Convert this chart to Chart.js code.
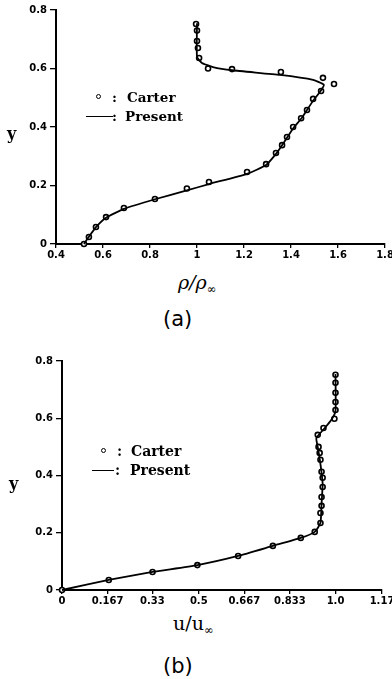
<!DOCTYPE html>
<html><head><meta charset="utf-8">
<script src="https://cdn.jsdelivr.net/npm/chart.js@4.4.0/dist/chart.umd.min.js"></script>
<style>
html,body{margin:0;padding:0;background:#fff;}
#page{position:relative;width:392px;height:679px;overflow:hidden;background:#fff;}
canvas{position:absolute;left:0;display:block;}
.t{position:absolute;color:#000;white-space:nowrap;line-height:1;}
.leg{font-family:'DejaVu Serif';font-weight:bold;}
.dot{position:absolute;width:3.4px;height:3.4px;border:1.4px solid #000;border-radius:50%;background:#fff;}
.ln{position:absolute;height:0;border-top:1.8px solid #000;}
.ax{font-family:'DejaVu Serif';font-style:italic;}
.ax sub{font-size:60%;vertical-align:-0.35em;font-style:normal;}
</style></head><body>
<div id="page">
<canvas id="ca" width="392" height="265" style="top:0"></canvas>
<canvas id="cb" width="392" height="270" style="top:340px"></canvas>

<div class="t leg" style="left:7px;top:126px;font-size:16px;">y</div>
<div class="dot" style="left:96px;top:94px;"></div>
<div class="t leg" style="left:112px;top:91px;font-size:13.5px;">:</div>
<div class="t leg" style="left:127px;top:91px;font-size:13.5px;">Carter</div>
<div class="ln" style="left:86px;top:116px;width:27px;"></div>
<div class="t leg" style="left:112px;top:110px;font-size:13.5px;">:</div>
<div class="t leg" style="left:125px;top:110px;font-size:13.5px;">Present</div>
<div class="t ax" style="left:178px;top:273px;font-size:19px;">ρ/ρ<sub>∞</sub></div>
<div class="t" style="left:163px;top:309px;font-family:'DejaVu Sans';font-size:21px;">(a)</div>

<div class="t leg" style="left:9px;top:476px;font-size:16px;">y</div>
<div class="dot" style="left:101px;top:448px;"></div>
<div class="t leg" style="left:117px;top:444px;font-size:14px;">:</div>
<div class="t leg" style="left:131px;top:444px;font-size:14px;">Carter</div>
<div class="ln" style="left:92px;top:470px;width:22px;"></div>
<div class="t leg" style="left:115px;top:463px;font-size:14px;">:</div>
<div class="t leg" style="left:130px;top:463px;font-size:14px;">Present</div>
<div class="t ax" style="left:173px;top:614px;font-size:19px;font-style:normal;">u/u<sub>∞</sub></div>
<div class="t" style="left:163px;top:656px;font-family:'DejaVu Sans';font-size:21px;">(b)</div>
</div>
<script>
// ---------- (a) density profile ----------
const rhoCarterX = [0.519,0.540,0.570,0.613,0.689,0.821,0.957,1.051,1.213,1.294,1.336,1.362,1.383,1.409,1.443,1.468,1.494,1.528,1.583,1.536,1.357,1.149,1.047,1.009,1.004,1.0,1.0,0.996];
const rhoCarterY = [0,0.024,0.058,0.092,0.123,0.154,0.19,0.212,0.246,0.273,0.311,0.338,0.366,0.40,0.43,0.458,0.496,0.523,0.547,0.568,0.588,0.598,0.60,0.636,0.67,0.694,0.73,0.752];
const rhoPresentX = [0.519,0.54,0.57,0.613,0.689,0.821,0.957,1.051,1.213,1.294,1.336,1.362,1.409,1.443,1.468,1.494,1.523,1.54,1.494,1.353,1.15,1.068,1.021,1.0,1.0];
const rhoPresentY = [0,0.025,0.058,0.09,0.12,0.153,0.183,0.205,0.24,0.27,0.308,0.338,0.395,0.428,0.458,0.49,0.52,0.544,0.561,0.578,0.594,0.605,0.619,0.64,0.755];
const rhoTickValues = [0.4,0.6,0.8,1.0,1.2,1.4,1.6,1.8];
const rhoTickLabels = ["0.4","0.6","0.8","1","1.2","1.4","1.6","1.8"];

// ---------- (b) velocity profile ----------
const uCarterX = [1.0,1.0,1.0,1.0,1.0,0.996,0.956,0.935,0.938,0.942,0.945,0.949,0.953,0.953,0.949,0.949,0.945,0.945,0.924,0.873,0.771,0.644,0.495,0.331,0.171,0];
const uCarterY = [0.752,0.724,0.689,0.657,0.629,0.598,0.566,0.542,0.50,0.479,0.455,0.413,0.392,0.36,0.325,0.294,0.269,0.234,0.203,0.182,0.154,0.119,0.087,0.063,0.035,0];
const uPresentX = [0,0.171,0.331,0.495,0.644,0.771,0.873,0.924,0.945,0.949,0.953,0.949,0.942,0.935,0.93,0.96,0.985,1.0,1.0];
const uPresentY = [0,0.035,0.063,0.087,0.119,0.154,0.182,0.203,0.234,0.3,0.37,0.41,0.46,0.5,0.531,0.565,0.595,0.625,0.755];
const uTickValues = [0,0.167,0.33,0.5,0.667,0.833,1.0,1.17];
const uTickLabels = ["0","0.167","0.33","0.5","0.667","0.833","1.0","1.17"];

const yTickValues = [0,0.2,0.4,0.6,0.8];
const yTickLabels = ["0","0.2","0.4","0.6","0.8"];

function pts(xs, ys){ return xs.map((x,i)=>({x:x,y:ys[i]})); }

function makeChart(id, carterX, carterY, presentX, presentY, xMin, xMax, xTicks, xLabels, geom){
  const tickFont = {family:'DejaVu Sans', size:10, weight:'bold'};
  return new Chart(document.getElementById(id), {
    data:{datasets:[
      {type:'line', label:'Present', data:pts(presentX,presentY), borderColor:'#000', borderWidth:1.8,
       pointRadius:0, tension:0.15, fill:false, order:0, clip:false},
      {type:'scatter', label:'Carter', data:pts(carterX,carterY), pointStyle:'circle', pointRadius:2.5,
       borderColor:'#000', backgroundColor:'#fff', pointBorderWidth:1.6, order:1, clip:false}
    ]},
    options:{
      responsive:false, animation:false, devicePixelRatio:1,
      layout:{padding:{top:geom.top, right:geom.right, left:0, bottom:0}},
      plugins:{legend:{display:false}, tooltip:{enabled:false}},
      scales:{
        x:{type:'linear', min:xMin, max:xMax,
           afterBuildTicks:s=>{ s.ticks = xTicks.map(v=>({value:v})); },
           afterFit:s=>{ s.height = geom.xh; s.paddingLeft=0; s.paddingRight=0; },
           ticks:{color:'#000', font:tickFont, padding:1, maxRotation:0, autoSkip:false,
                  callback:(v,i)=>xLabels[i]},
           grid:{display:true, drawOnChartArea:false, drawTicks:true, tickLength:4, color:'#000', lineWidth:1.3},
           border:{display:true, color:'#000', width:2}},
        y:{type:'linear', min:0, max:0.8,
           afterBuildTicks:s=>{ s.ticks = yTickValues.map(v=>({value:v})); },
           afterFit:s=>{ s.width = geom.yw; s.paddingTop=0; s.paddingBottom=0; },
           ticks:{color:'#000', font:tickFont, padding:3, autoSkip:false,
                  callback:(v,i)=>yTickLabels[i]},
           grid:{display:true, drawOnChartArea:false, drawTicks:true, tickLength:6, color:'#000', lineWidth:1.3},
           border:{display:true, color:'#000', width:2}}
      }
    }
  });
}

makeChart('ca', rhoCarterX, rhoCarterY, rhoPresentX, rhoPresentY, 0.4, 1.8, rhoTickValues, rhoTickLabels,
  {top:10, right:7, xh:21, yw:56});
makeChart('cb', uCarterX, uCarterY, uPresentX, uPresentY, 0, 1.17, uTickValues, uTickLabels,
  {top:21, right:10, xh:20, yw:62});
</script>
</body></html>
